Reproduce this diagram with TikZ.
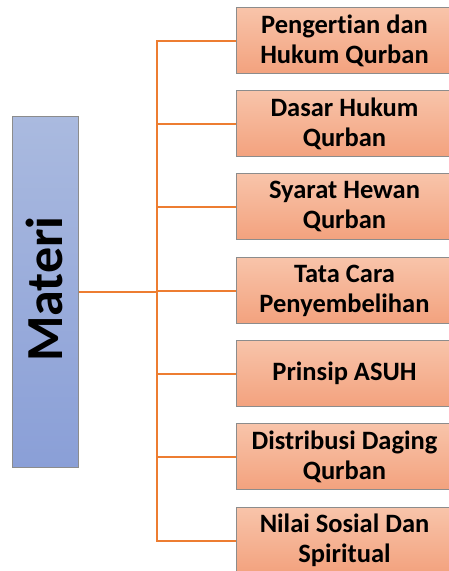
\documentclass[tikz,border=0pt]{standalone}
\usepackage{fontspec}
\setmainfont{Carlito}[Ligatures=CommonOff]
\definecolor{conn}{HTML}{ED7D31}
\definecolor{boxline}{HTML}{8C8C8C}
\definecolor{otop}{HTML}{F8C4AA}
\definecolor{obot}{HTML}{F3A27E}
\definecolor{btop}{HTML}{AABADF}
\definecolor{bbot}{HTML}{8A9FD7}
\begin{document}
\begin{tikzpicture}[x=1pt,y=-1pt,
  topic/.style={draw=boxline, line width=1pt, top color=otop, bottom color=obot,
    minimum width=216pt, minimum height=66pt, inner sep=0pt, anchor=north west,
    font=\bfseries\fontsize{26.5}{30}\selectfont, align=flush center, text width=216pt},
  link/.style={draw=conn, line width=2pt}]
\useasboundingbox (0,0) rectangle (449,571);
\clip (0,0) rectangle (449,571);
\node[draw=boxline, line width=1pt, top color=btop, bottom color=bbot,
  minimum width=66pt, minimum height=351pt, inner sep=0pt, anchor=north west]
  (materi) at (12,116) {};
\node[rotate=90, font=\bfseries\fontsize{52}{52}\selectfont] (mt) at (44,289) {Materi};
\node[topic] (b1) at (236,7) {Pengertian dan\\Hukum Qurban};
\node[topic] (b2) at (236,90) {Dasar Hukum\\Qurban};
\node[topic] (b3) at (236,173) {Syarat Hewan\\Qurban};
\node[topic] (b4) at (236,257) {Tata Cara\\Penyembelihan};
\node[topic] (b5) at (236,340) {Prinsip ASUH};
\node[topic] (b6) at (236,423) {Distribusi Daging\\Qurban};
\node[topic] (b7) at (236,507) {Nilai Sosial Dan\\Spiritual};
\coordinate (j) at (157,292);
\draw[link] (materi.east |- j) -- (j);
\foreach \b in {b1,b2,b3,b4,b5,b6,b7}
  \draw[link] (\b.west) -| (j);
\end{tikzpicture}
\end{document}
